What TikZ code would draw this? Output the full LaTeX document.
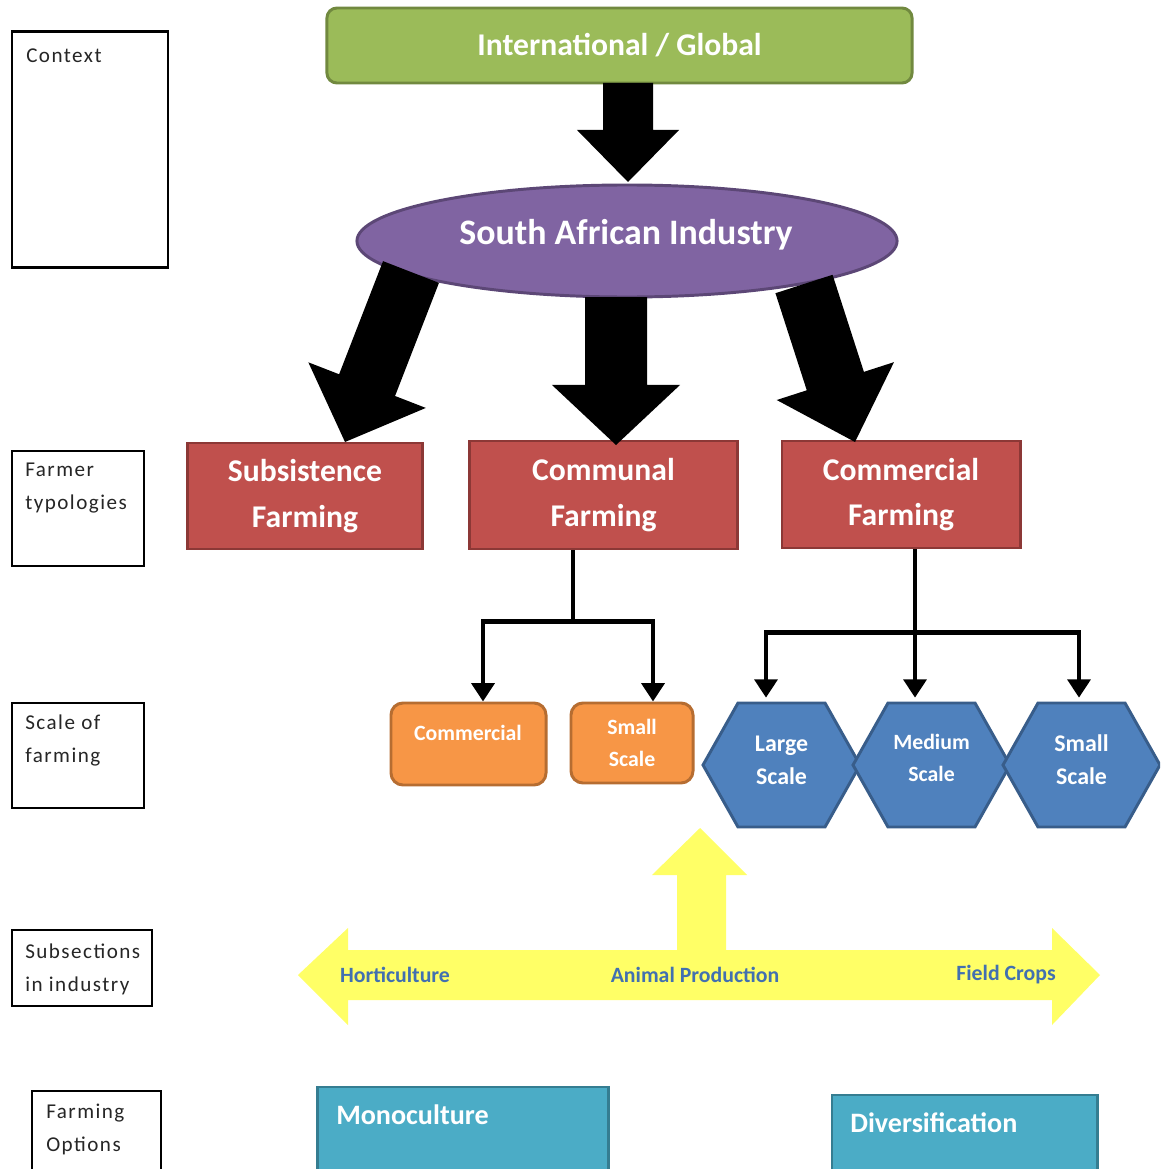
\documentclass[tikz,border=0pt]{standalone}
\usepackage{fontspec}
\setmainfont{Carlito}
\newfontfamily\lblfont[LetterSpace=7]{Carlito}
\usetikzlibrary{shapes.geometric,arrows.meta,calc}

\definecolor{cGreen}{HTML}{9BBB59}
\definecolor{cGreenB}{HTML}{71893F}
\definecolor{cPurple}{HTML}{8064A2}
\definecolor{cPurpleB}{HTML}{5C4776}
\definecolor{cRed}{HTML}{C0504D}
\definecolor{cRedB}{HTML}{8C3836}
\definecolor{cOrange}{HTML}{F79646}
\definecolor{cOrangeB}{HTML}{B66D31}
\definecolor{cBlue}{HTML}{4F81BD}
\definecolor{cBlueB}{HTML}{385D8A}
\definecolor{cTeal}{HTML}{4BACC6}
\definecolor{cTealB}{HTML}{357D91}
\definecolor{cYellow}{HTML}{FFFF66}
\definecolor{cLabelBlue}{HTML}{4270B0}

% block arrow: #1 tail, #2 tip, #3 shaft half width, #4 head half width, #5 head length
\newcommand\fatarrow[5]{%
  \path ($(#2)!#5!(#1)$) coordinate (fa-base);
  \fill[black] ($(#1)!#3!90:(#2)$) -- ($(fa-base)!#3!90:(#2)$) -- ($(fa-base)!#4!90:(#2)$)
    -- (#2) -- ($(fa-base)!#4!-90:(#2)$) -- ($(fa-base)!#3!-90:(#2)$) -- ($(#1)!#3!-90:(#2)$) -- cycle;}

% flat-topped hexagon centred at (#1,#2)
\newcommand\hexshape[2]{%
  \filldraw[hexfill] (#1-78.5,#2) -- (#1-43.5,#2-62) -- (#1+43.5,#2-62) -- (#1+78.5,#2)
    -- (#1+43.5,#2+62) -- (#1-43.5,#2+62) -- cycle;}

\begin{document}
\begin{tikzpicture}[x=0.025cm,y=-0.025cm,
  lbox/.style={draw=black, line width=1.4pt, fill=white, inner sep=0},
  lbltext/.style={anchor=north west, inner sep=0, align=left, text=black!85,
    font=\lblfont\fontsize{15}{23}\selectfont},
  gbox/.style={draw=cGreenB, fill=cGreen, line width=2.1pt, rounded corners=0.25cm, text=white,
    inner sep=0, font=\bfseries\fontsize{22.5}{27}\selectfont},
  rbox/.style={draw=cRedB, fill=cRed, line width=2.1pt, text=white, align=center, inner sep=0,
    font=\bfseries\fontsize{22.5}{32.6}\selectfont},
  obox/.style={draw=cOrangeB, fill=cOrange, line width=2.1pt, rounded corners=0.3cm, inner sep=0},
  otext/.style={text=white, align=center, inner sep=0, font=\bfseries\fontsize{15.5}{22.7}\selectfont},
  hexfill/.style={draw=cBlueB, fill=cBlue, line width=2.1pt, line join=miter},
  hextext/.style={text=white, align=center, inner sep=0, minimum width=3.925cm, minimum height=3.1cm,
    font=\bfseries\fontsize{17}{23.4}\selectfont},
  tbox/.style={draw=cTealB, fill=cTeal, line width=2.1pt, inner sep=0},
  ttext/.style={anchor=west, text=white, inner sep=0, font=\bfseries\fontsize{20}{24}\selectfont},
  ylabel/.style={text=cLabelBlue, inner sep=0, font=\bfseries\fontsize{15.5}{18}\selectfont},
  elbow/.style={draw=black, line width=3.5pt, -{Triangle[length=13pt,width=16pt]}}]

\clip (0,0) rectangle (1160,1169);
\fill[white] (0,0) rectangle (1160,1169);

% ---- row labels on the left ----
\node[lbox, line width=2.1pt, minimum width=3.9cm, minimum height=5.875cm] (ctx) at (90,149.5) {};
\node[lbltext] (ctx-t) at (26,49) {Context};
\node[lbox, minimum width=3.3cm, minimum height=2.875cm] (ftyp) at (78,508.5) {};
\node[lbltext] (ftyp-t) at (25,463) {Farmer\\typologies};
\node[lbox, minimum width=3.3cm, minimum height=2.625cm] (sof) at (78,755.5) {};
\node[lbltext] (sof-t) at (25,715) {Scale of\\farming};
\node[lbox, minimum width=3.5cm, minimum height=1.9cm] (subs) at (82,968) {};
\node[lbltext] (subs-t) at (25,944) {Subsections\\in industry};
\node[lbox, minimum width=3.225cm, minimum height=2.3cm] (fop) at (96.5,1137) {};
\node[lbltext] (fop-t) at (46,1104) {Farming\\Options};

% ---- context levels ----
\node[gbox, minimum width=14.625cm, minimum height=1.875cm] (gl) at (619.5,45.5) {International / Global};
\node[ellipse, draw=cPurpleB, fill=cPurple, line width=2.1pt, minimum width=13.5cm, minimum height=2.8cm,
  inner sep=0] (sai) at (627,241) {};
\node[text=white, inner sep=0, font=\bfseries\fontsize{25.5}{30}\selectfont] (sai-t) at (626,235) {South African Industry};

% ---- farmer typologies ----
\node[rbox, minimum width=5.85cm, minimum height=2.65cm] (sub) at (305,496) {Subsistence\\Farming};
\node[rbox, minimum width=6.675cm, minimum height=2.7cm] (comm) at (603.5,495) {Communal\\Farming};
\node[rbox, minimum width=5.95cm, minimum height=2.675cm] (comc) at (901,494.5) {Commercial\\Farming};

% ---- block arrows ----
\coordinate (a1s) at (628,83);  \coordinate (a1e) at (628,182);
\coordinate (a2s) at (411,272); \coordinate (a2e) at (345,442);
\coordinate (a3s) at (616,297); \coordinate (a3e) at (616,445);
\coordinate (a4s) at (804,284); \coordinate (a4e) at (855,442);
\fatarrow{a1s}{a1e}{0.625cm}{1.275cm}{1.3cm}
\fatarrow{a2s}{a2e}{0.75cm}{1.575cm}{1.525cm}
\fatarrow{a3s}{a3e}{0.775cm}{1.6cm}{1.5cm}
\fatarrow{a4s}{a4e}{0.75cm}{1.54cm}{1.6cm}

% ---- scale of farming ----
\node[obox, minimum width=3.875cm, minimum height=2.05cm] (orc) at (468.5,744) {};
\node[otext] (orc-t) at (468,733) {Commercial};
\node[obox, minimum width=3.05cm, minimum height=2.0cm, otext] (ors) at (632,743) {Small\\Scale};

\hexshape{781.5}{765}
\hexshape{931.5}{765}
\hexshape{1081.5}{765}
\node[hextext] (hexL) at (781.5,760) {Large\\Scale};
\node[hextext, font=\bfseries\fontsize{15.5}{22.7}\selectfont] (hexM) at (931.5,758) {Medium\\Scale};
\node[hextext] (hexS) at (1081.5,760) {Small\\Scale};

% ---- elbow connectors ----
\coordinate (commout) at ([xshift=-0.7625cm]comm.south);
\coordinate (comcout) at ([xshift=0.35cm]comc.south);
\draw[elbow] (commout) -- ++(0,71) -| ([xshift=0.3625cm]orc.north);
\draw[elbow] (commout) ++(0,71) -| ([xshift=0.525cm]ors.north);
\draw[elbow] (comcout) -- ++(0,83) -| ([xshift=-0.3875cm]hexL.north);
\draw[elbow] (comcout) ++(0,83) -| ([xshift=-0.0625cm]hexS.north);
\draw[elbow] (comcout) -- (comcout |- hexL.north);

% ---- subsections band ----
\fill[cYellow] (298,975) -- (348,928) -- (348,950) -- (677,950) -- (677,875) -- (652,875)
  -- (700,828) -- (747,875) -- (726,875) -- (726,950) -- (1052,950) -- (1052,928)
  -- (1100,975) -- (1052,1025) -- (1052,1000) -- (348,1000) -- (348,1025) -- cycle;
\node[ylabel] (hort) at (395,975) {Horticulture};
\node[ylabel] (anim) at (695,975) {Animal Production};
\node[ylabel] (field) at (1006,975) {Field Crops};

% ---- farming options ----
\node[tbox, minimum width=7.25cm, minimum height=2.4cm] (mono) at (463,1135) {};
\node[ttext] (mono-t) at (336,1115) {Monoculture};
\node[tbox, minimum width=6.625cm, minimum height=2.2cm] (div) at (964.5,1139) {};
\node[ttext] (div-t) at (850,1123) {Diversification};
\end{tikzpicture}
\end{document}
